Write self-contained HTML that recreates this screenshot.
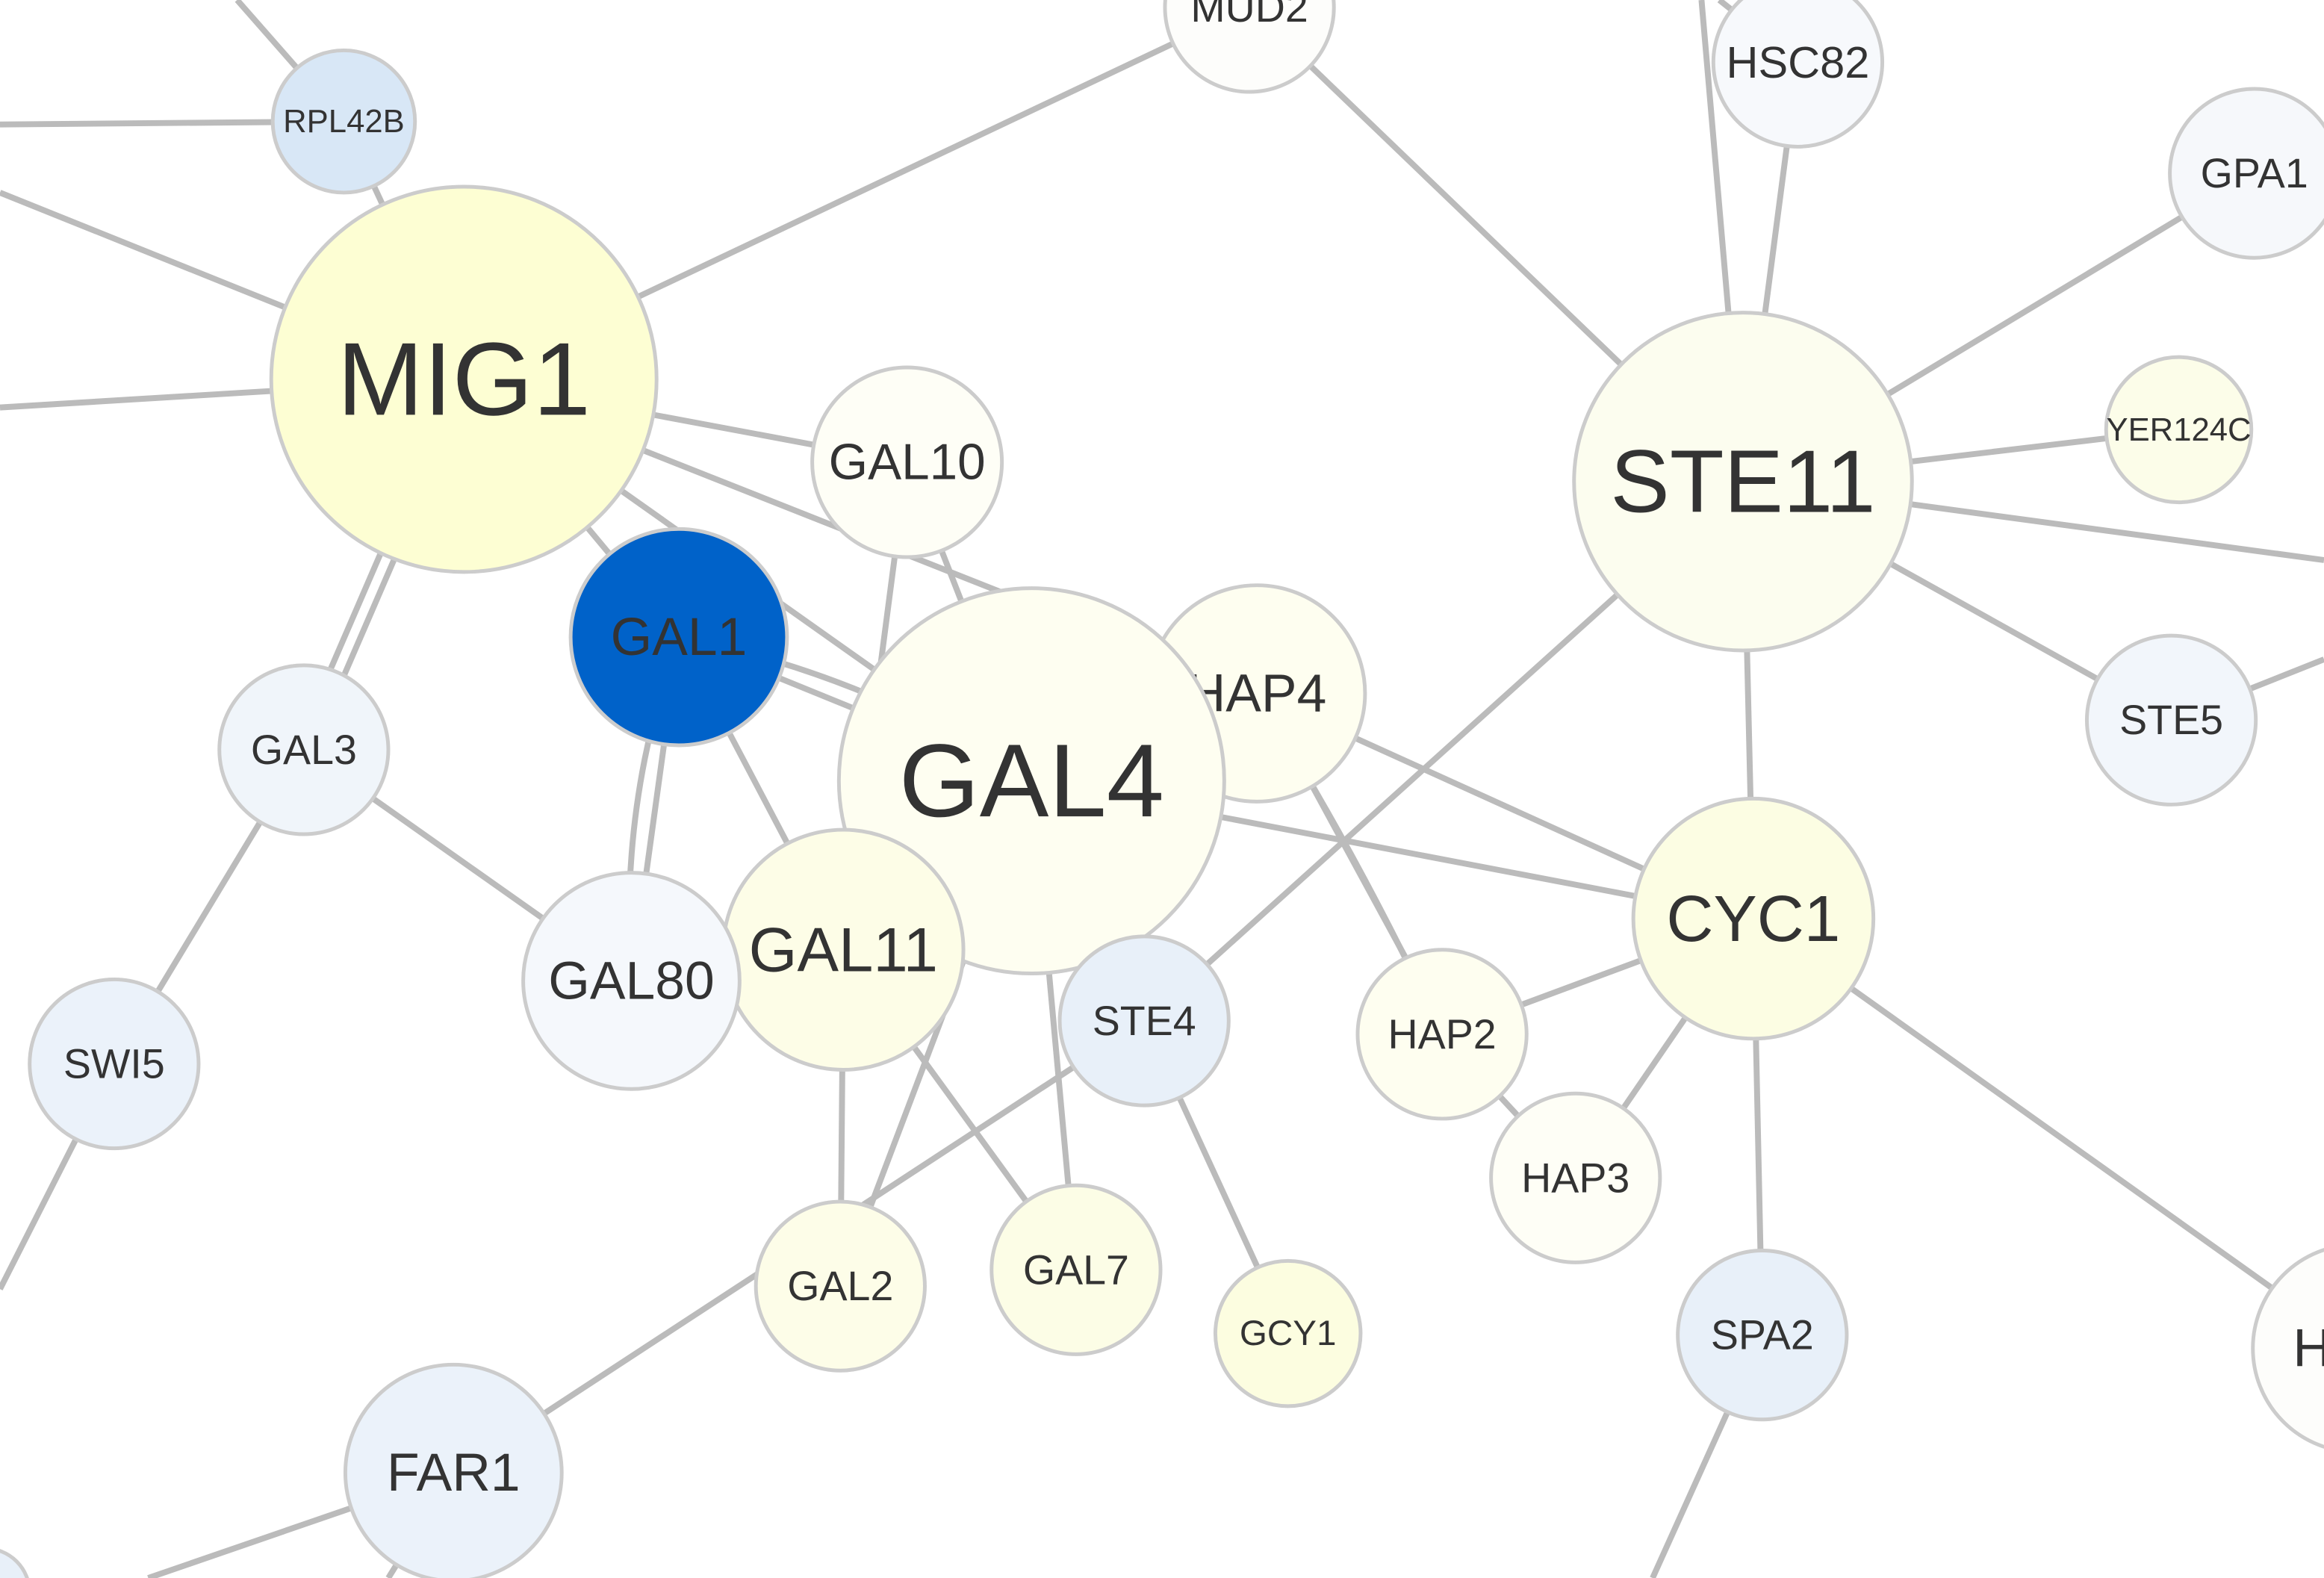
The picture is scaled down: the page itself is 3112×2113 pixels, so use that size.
<!DOCTYPE html>
<html><head><meta charset="utf-8"><style>
html,body{margin:0;padding:0;background:#fff;width:3112px;height:2113px;overflow:hidden}
svg{display:block}
text{font-family:"Liberation Sans","DejaVu Sans",sans-serif;fill:#333;text-anchor:middle;dominant-baseline:central}
</style></head><body>
<svg id="net" width="3112" height="2113" viewBox="0 0 1568 1065" preserveAspectRatio="none" xmlns="http://www.w3.org/2000/svg">
<g id="edges"></g>
<g id="nodes"></g>
</svg>
<script>
const nodeNames=["MUD2","HSC82","RPL42B","GPA1","MIG1","YER124C","STE11","GAL10","GAL1","HAP4","STE5","GAL3","GAL4","CYC1","GAL11","GAL80","STE4","HAP2","SWI5","HAP3","GAL7","GAL2","GCY1","SPA2","H","FAR1","X1"];
const nodeX=[843,1213,232,1521,313,1470,1176,612,458,848,1465,205,696,1183,569,426,772,973,77,1063,726,567,869,1189,1590,306,-10];
const nodeY=[5,42,82,117,256,290,325,312,430,468,486,506,527,620,641,662,689,698,718,795,857,868,900,901,910,994,1075];
const nodeR=[57,57,48,57,130,49,114,64,73,73,57,57,130,81,81,73,57,57,57,57,57,57,49,57,70,73,30];
const nodeFill=["#fdfdfb","#f7f9fc","#d8e7f6","#f6f8fb","#fdfed3","#fcfde9","#fcfdef","#fefef6","#0062c9","#fefef0","#f2f6fb","#f0f5fa","#fefef1","#fcfde3","#fdfde7","#f5f8fc","#e8f0f9","#fefef0","#ebf2fa","#fefef6","#fcfde6","#fdfde8","#fcfde0","#e8f0f9","#fdfdfb","#ebf2fa","#e8f0f9"];
const nodeFont=[28,30,22,28,70,22,60,34,36,36,28,28,70,44,42,36,28,28,28,28,28,28,24,28,36,36,20];
const outX=[160,0,0,0,1148,1160,1568,1568,0,100,262,1115];
const outY=[0,84,130,275,0,0,378,445,870,1065,1065,1065];
const edgeFrom=["RPL42B","RPL42B","RPL42B","MIG1","MIG1","MIG1","MIG1","STE11","HSC82","STE11","HSC82","STE11","STE11","STE11","STE11","STE5","STE11","STE11","MIG1","MIG1","MIG1","MIG1","GAL10","GAL10","GAL1","GAL1","GAL1","GAL3","GAL3","SWI5","GAL4","HAP4","HAP4","HAP2","HAP2","HAP3","CYC1","CYC1","GAL4","GAL11","GAL11","GAL4","STE4","STE4","FAR1","FAR1","SPA2","MIG1"];
const edgeTo=["o0","o1","MIG1","o2","o3","MUD2","GAL1","MUD2","STE11","o4","o5","GPA1","YER124C","o6","STE5","o7","CYC1","STE4","GAL10","HAP4","GAL3","GAL4","GAL4","GAL11","GAL4","GAL80","GAL11","GAL80","SWI5","o8","CYC1","CYC1","HAP2","CYC1","HAP3","CYC1","SPA2","H","GAL7","GAL2","GAL7","GAL2","FAR1","GCY1","o9","o10","o11","GAL3"];
const edgeOff=[0,0,0,0,0,0,0,0,0,0,0,0,0,0,0,0,0,0,0,0,-5,0,0,0,0,0,0,0,0,0,0,0,-3,0,0,0,0,0,0,0,0,0,0,0,0,0,0,5];
const curvedFrom=["GAL1","GAL1","HAP4"];
const curvedTo=["GAL4","GAL80","HAP2"];
const curvedBend=[-25,25,-8];
const NS="http://www.w3.org/2000/svg";
function pt(n){if(n[0]==="o"){const i=+n.slice(1);return [outX[i],outY[i]];}const i=nodeNames.indexOf(n);return [nodeX[i],nodeY[i]];}
const eg=document.getElementById("edges");
function line(a,b,off,name,bend){
  const d=Math.hypot(b[0]-a[0],b[1]-a[1])||1;const nx=-(b[1]-a[1])/d,ny=(b[0]-a[0])/d;
  const p=document.createElementNS(NS,"path");
  const ax=a[0]+nx*off,ay=a[1]+ny*off,bx=b[0]+nx*off,by=b[1]+ny*off;
  let dd="M"+ax+" "+ay+" L"+bx+" "+by;
  if(bend){const mx=(ax+bx)/2+nx*bend,my=(ay+by)/2+ny*bend;dd="M"+ax+" "+ay+" Q"+mx+" "+my+" "+bx+" "+by;}
  p.setAttribute("d",dd);p.setAttribute("stroke","#bbbbbb");p.setAttribute("stroke-width","4");p.setAttribute("fill","none");
  
  
  eg.appendChild(p);
}
for(let i=0;i<edgeFrom.length;i++){
  line(pt(edgeFrom[i]),pt(edgeTo[i]),edgeOff[i],"edge-"+edgeFrom[i].toLowerCase()+"-"+edgeTo[i].toLowerCase(),0);
}
for(let i=0;i<curvedFrom.length;i++){line(pt(curvedFrom[i]),pt(curvedTo[i]),0,"edge-curved-"+curvedFrom[i].toLowerCase()+"-"+curvedTo[i].toLowerCase(),curvedBend[i]);}
const ng=document.getElementById("nodes");
for(let i=0;i<nodeNames.length;i++){
  const g=document.createElementNS(NS,"g");
  
  
  const c=document.createElementNS(NS,"circle");
  c.setAttribute("cx",nodeX[i]);c.setAttribute("cy",nodeY[i]);c.setAttribute("r",nodeR[i]);
  c.setAttribute("fill",nodeFill[i]);c.setAttribute("stroke","#cccccc");c.setAttribute("stroke-width","2.5");
  g.appendChild(c);
  if(nodeNames[i]!=="X1"){
    const t=document.createElementNS(NS,"text");
    t.setAttribute("x",nodeNames[i]==="H"?nodeX[i]-30:nodeX[i]);t.setAttribute("y",nodeY[i]);
    t.setAttribute("font-size",nodeFont[i]);
    
    
    t.textContent=nodeNames[i];
    g.appendChild(t);
  }
  ng.appendChild(g);
}
</script>
</body></html>
